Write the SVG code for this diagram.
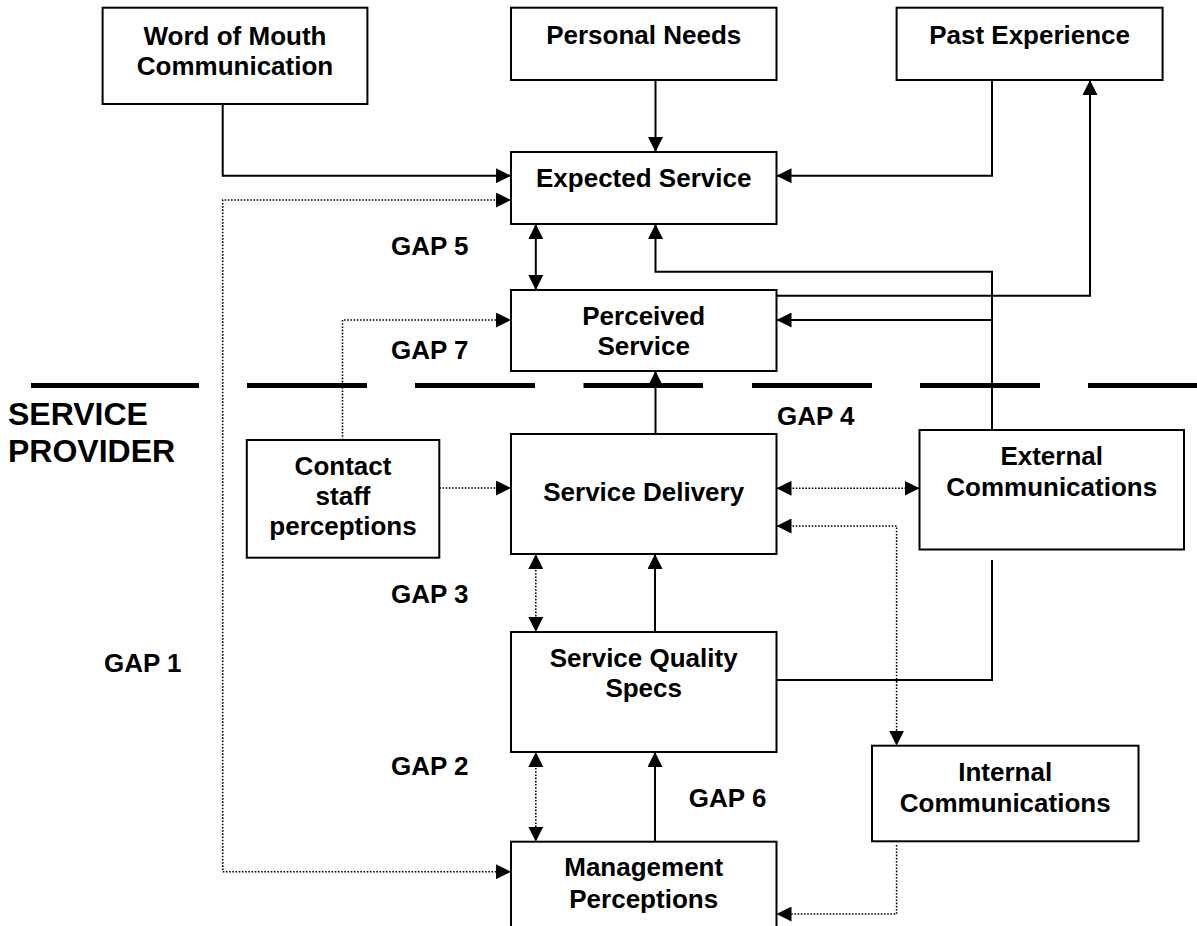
<svg xmlns="http://www.w3.org/2000/svg" width="1197" height="926" viewBox="0 0 1197 926">
<defs>
<style>
.box{fill:#fff;stroke:#000;stroke-width:2}
.t{font-family:"Liberation Sans",Arial,sans-serif;font-weight:bold;font-size:26px;fill:#000;text-anchor:middle}
.g{font-family:"Liberation Sans",Arial,sans-serif;font-weight:bold;font-size:26px;fill:#000}
.sp{font-family:"Liberation Sans",Arial,sans-serif;font-weight:bold;font-size:32px;fill:#000}
.c{fill:none;stroke:#000;stroke-width:2}
.d{fill:none;stroke:#000;stroke-width:1.6;stroke-dasharray:1.6 1.6}
.a{marker-end:url(#ah)}
.b{marker-start:url(#ah);marker-end:url(#ah)}
.dash{stroke:#000;stroke-width:5}
</style>
<marker id="ah" markerUnits="userSpaceOnUse" markerWidth="15" markerHeight="15" refX="15" refY="7.5" orient="auto-start-reverse" viewBox="0 0 15 15">
<path d="M0,0 L15,7.5 L0,15 z" fill="#000"/>
</marker>
</defs>
<rect width="1197" height="926" fill="#fff"/>

<g id="divider">
<line class="dash" x1="31" y1="385.5" x2="199" y2="385.5"/>
<line class="dash" x1="247" y1="385.5" x2="367" y2="385.5"/>
<line class="dash" x1="415" y1="385.5" x2="535" y2="385.5"/>
<line class="dash" x1="583.5" y1="385.5" x2="703" y2="385.5"/>
<line class="dash" x1="752" y1="385.5" x2="872" y2="385.5"/>
<line class="dash" x1="920" y1="385.5" x2="1040" y2="385.5"/>
<line class="dash" x1="1088" y1="385.5" x2="1197" y2="385.5"/>
</g>

<g id="connectors">
<path class="c a" d="M222.7,104 V175.7 H511"/>
<path class="d b" d="M511,200 H222.7 V871.7 H511"/>
<path class="c a" d="M655.5,80 V152"/>
<path class="c a" d="M992,80 V175.7 H776.5"/>
<path class="c b" d="M535.8,224 V290"/>
<path class="c a" d="M776.5,295.7 H1090 V80"/>
<path class="c a" d="M992,430 V271.7 H655.5 V224"/>
<path class="c a" d="M992,320 H776.5"/>
<path class="c a" d="M655.5,434 V371"/>
<path class="d a" d="M342.5,440 V320 H511"/>
<path class="d a" d="M439.3,488 H511"/>
<path class="d b" d="M776.5,488.3 H919.5"/>
<path class="d b" d="M776.5,526 H896.6 V745.7"/>
<path class="d b" d="M535.8,554 V632"/>
<path class="c a" d="M655,632 V554"/>
<path class="c" d="M776.5,680 H992 V560"/>
<path class="d b" d="M535.8,752 V841.7"/>
<path class="c a" d="M655,841.7 V752"/>
<path class="d a" d="M896.6,845 V914 H776.5"/>
</g>

<g id="word-of-mouth">
<rect class="box" x="102.6" y="7.7" width="264.8" height="96.3"/>
<text class="t" x="235" y="44.5">Word of Mouth</text>
<text class="t" x="235" y="74.5">Communication</text>
</g>
<g id="personal-needs">
<rect class="box" x="511" y="7.7" width="265.5" height="72.3"/>
<text class="t" x="643.7" y="44">Personal Needs</text>
</g>
<g id="past-experience">
<rect class="box" x="896.6" y="7.7" width="266" height="72.3"/>
<text class="t" x="1029.6" y="44">Past Experience</text>
</g>
<g id="expected-service">
<rect class="box" x="511" y="152" width="265.5" height="72"/>
<text class="t" x="643.7" y="187.3">Expected Service</text>
</g>
<g id="perceived-service">
<rect class="box" x="511" y="290" width="265.5" height="81"/>
<text class="t" x="643.7" y="325">Perceived</text>
<text class="t" x="643.7" y="355">Service</text>
</g>
<g id="contact-staff">
<rect class="box" x="246.8" y="440" width="192.5" height="117.7"/>
<text class="t" x="343" y="475">Contact</text>
<text class="t" x="343" y="505">staff</text>
<text class="t" x="343" y="535">perceptions</text>
</g>
<g id="service-delivery">
<rect class="box" x="511" y="434" width="265.5" height="120"/>
<text class="t" x="643.7" y="501">Service Delivery</text>
</g>
<g id="external-communications">
<rect class="box" x="919.5" y="430" width="264.5" height="119.5"/>
<text class="t" x="1051.7" y="465">External</text>
<text class="t" x="1051.7" y="496">Communications</text>
</g>
<g id="service-quality-specs">
<rect class="box" x="511" y="632" width="265.5" height="120"/>
<text class="t" x="643.7" y="666.7">Service Quality</text>
<text class="t" x="643.7" y="697">Specs</text>
</g>
<g id="internal-communications">
<rect class="box" x="872" y="745.7" width="266.5" height="95.6"/>
<text class="t" x="1005.2" y="781">Internal</text>
<text class="t" x="1005.2" y="811.7">Communications</text>
</g>
<g id="management-perceptions">
<rect class="box" x="511" y="841.7" width="265.5" height="110"/>
<text class="t" x="643.7" y="876">Management</text>
<text class="t" x="643.7" y="907.5">Perceptions</text>
</g>

<g id="labels">
<text class="sp" x="8" y="425">SERVICE</text>
<text class="sp" x="8" y="462">PROVIDER</text>
<text class="g" x="391" y="255">GAP 5</text>
<text class="g" x="391" y="359.3">GAP 7</text>
<text class="g" x="777" y="425">GAP 4</text>
<text class="g" x="391" y="603">GAP 3</text>
<text class="g" x="104" y="671.7">GAP 1</text>
<text class="g" x="391" y="775">GAP 2</text>
<text class="g" x="688.8" y="806.7">GAP 6</text>
</g>
</svg>
